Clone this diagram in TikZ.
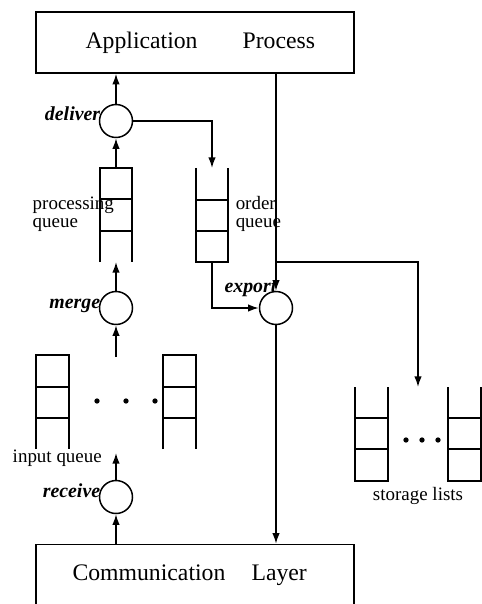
\documentclass[tikz,border=0pt]{standalone}
\usepackage{fontspec}
\setmainfont{Liberation Serif}
\usepackage{tikz}
\usetikzlibrary{arrows.meta}

\tikzset{
  layer/.style={draw,minimum width=6.36cm,minimum height=1.22cm,inner sep=0pt,
    font=\fontsize{13.5}{16}\selectfont},
  op/.style={draw,circle,minimum size=.66cm,inner sep=0pt},
  opname/.style={anchor=base east,inner sep=0pt,xshift=1.2pt,
    font=\fontsize{11.3}{12}\selectfont\bfseries\itshape},
  qlabel/.style={inner sep=0pt,align=left,font=\fontsize{10.8}{10.3}\selectfont}
}

\begin{document}
\begin{tikzpicture}[x=.02cm,y=-.02cm,line width=.85pt,
    >={Latex[length=6pt,width=4.2pt]}]
      \useasboundingbox (0,0) rectangle (482,604);
      \clip (0,0) rectangle (482,604);
      % the two layers
      \node[layer] (app) at (195,42.5) {\hspace*{.45em}Application\hspace{1.9em}Process};
      \node[layer] (comm) at (195,575) {Communication\hspace{1.1em}Layer\hspace*{.45em}};
      % operations
      \node[op] (deliver) at (116,121) {};
      \node[op] (merge) at (116,308) {};
      \node[op] (receive) at (116,497) {};
      \node[op] (export) at (276,308) {};
      \node[opname] at (deliver.west) {deliver};
      \node[opname] at (merge.west) {merge};
      \node[opname] at (receive.west) {receive};
      \node[opname,xshift=0pt] at (275,292) {export};
      % processing queue
      \draw (100,262) -- (100,168) -- (132,168) -- (132,262);
      \draw (100,199) -- (132,199) (100,231) -- (132,231);
      \coordinate (pqtop) at (116,168);
      \coordinate (pqbot) at (116,262);
      \node[qlabel,anchor=west] at (32,214) {processing\\queue};
      % order queue
      \draw (196,168) -- (196,262) -- (228,262) -- (228,168);
      \draw (196,200) -- (228,200) (196,231) -- (228,231);
      \coordinate (oqtop) at (212,168);
      \coordinate (oqbot) at (212,262);
      \node[qlabel,anchor=west] at (235,214) {order\\queue};
      % input queues
      \foreach \x in {36,163} {
        \draw (\x,449) -- (\x,355) -- (\x+33,355) -- (\x+33,449);
        \draw (\x,387) -- +(33,0) (\x,418) -- +(33,0);
      }
      \foreach \x in {97,126,155} \fill (\x,401) circle (1.5pt);
      \coordinate (iqtop) at (116,357);
      \coordinate (iqlab) at (116,453);
      \node[qlabel,anchor=base west] at (12,462) {input queue};
      % storage lists
      \foreach \x in {355,448} {
        \draw (\x,387) -- (\x,481) -- (\x+33,481) -- (\x+33,387);
        \draw (\x,418) -- +(33,0) (\x,449) -- +(33,0);
      }
      \foreach \x in {406,422,438} \fill (\x,440) circle (1.5pt);
      \coordinate (slist) at (418,387);
      \coordinate (branch) at (276,262);
      \node[qlabel,anchor=base] at (418,500) {storage lists};
      % connectors
      \draw[->] (deliver) -- (deliver |- app.south);
      \draw[->] (pqtop) -- (deliver);
      \draw[->] (deliver.east) -| (oqtop);
      \draw[->] (merge) -- (pqbot);
      \draw[->] (iqtop) -- (merge);
      \draw[->] (receive) -- (iqlab);
      \draw[->] (comm.north -| receive) -- (receive);
      \draw[->] (app.south -| export) -- (export);
      \draw[->] (export) -- (export |- comm.north);
      \draw[->] (branch) -| (slist);
      \draw[->] (oqbot) |- (export);
    \end{tikzpicture}
\end{document}
